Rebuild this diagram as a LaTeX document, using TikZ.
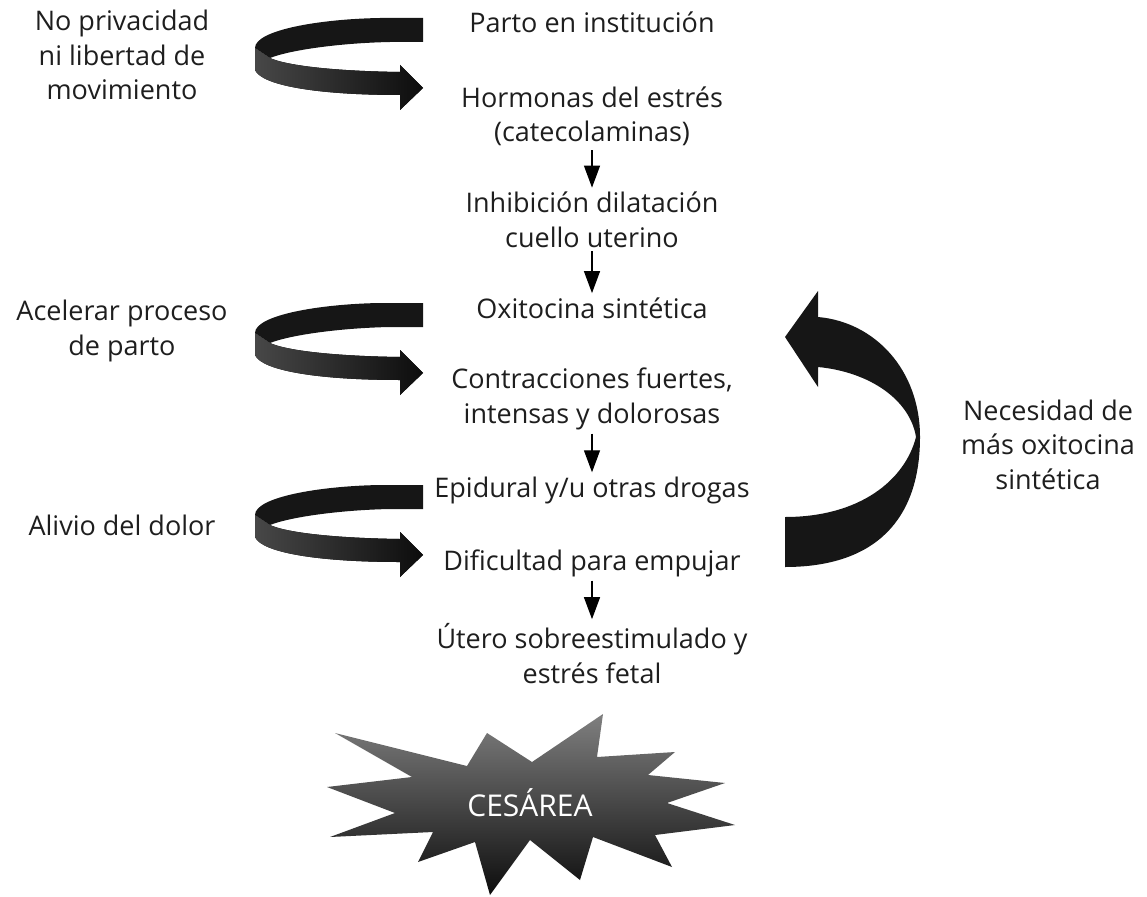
\documentclass[tikz,border=0pt]{standalone}
\usepackage{fontspec}
\setmainfont{Open Sans}
\usepackage{xcolor}
\usetikzlibrary{arrows.meta}

\definecolor{tinta}{HTML}{1E1E1E}
\definecolor{cinta}{HTML}{161616}

\tikzset{
  paso/.style={align=center, text=tinta, inner sep=4pt, anchor=base,
    font=\fontsize{27}{34.5}\selectfont},
  flecha/.style={-{Triangle[length=22pt,width=16pt]}, line width=1.3pt, black}
}

% flecha que da la vuelta, #1 = borde de arriba
\newcommand{\giro}[1]{%
  \begin{scope}[shift={(0,#1)}]
    \fill[cinta] (423,0) -- (380,0) .. controls (320,1) and (255,12) .. (255,30)
      -- (270,40) .. controls (290,32) and (340,25) .. (390,24) -- (423,24) -- cycle;
    \fill[left color=black!72, right color=black!95] (255,30) -- (255,52)
      .. controls (262,68) and (320,77) .. (400,77) -- (400,92) -- (423,70)
      -- (400,47) -- (400,54) .. controls (330,53) and (285,47) .. (270,40) -- cycle;
  \end{scope}}

\begin{document}
\begin{tikzpicture}[x=1pt,y=-1pt]
    \useasboundingbox (0,0) rectangle (1147,896);
    % cadena central (base = ultima linea)
    \node[paso] (parto) at (592,33) {Parto en institución};
    \node[paso] (hormonas) at (592,142) {Hormonas del estrés\\(catecolaminas)};
    \node[paso] (inhibicion) at (592,247) {Inhibición dilatación\\cuello uterino};
    \node[paso] (oxitocina) at (592,318) {Oxitocina sintética};
    \node[paso] (contracciones) at (592,423) {Contracciones fuertes,\\intensas y dolorosas};
    \node[paso] (epidural) at (592,497) {Epidural y/u otras drogas};
    \node[paso] (dificultad) at (592,570) {Dificultad para empujar};
    \node[paso] (utero) at (592,683) {Útero sobreestimulado y\\estrés fetal};
    \draw[flecha] (hormonas.south) -- (inhibicion.north);
    \draw[flecha] (inhibicion.south) -- (oxitocina.north);
    \draw[flecha] (contracciones.south) -- (epidural.north);
    \draw[flecha] (dificultad.south) -- (utero.north);
    % causas
    \node[paso] (privacidad) at (122,100) {No privacidad\\ni libertad de\\movimiento};
    \node[paso] (acelerar) at (122,355) {Acelerar proceso\\de parto};
    \node[paso] (alivio) at (122,535) {Alivio del dolor};
    \giro{18}
    \giro{303}
    \giro{485}
    % vuelta a la oxitocina
    \fill[cinta] (785,567) .. controls (875,567) and (920,520) .. (920,437)
      .. controls (920,370) and (875,322) .. (818,317) -- (818,291) -- (785,337)
      -- (818,387) -- (818,367) .. controls (870,372) and (910,400) .. (916,437)
      .. controls (905,480) and (860,517) .. (785,517) -- cycle;
    \node[paso] (necesidad) at (1048,489) {Necesidad de\\más oxitocina\\sintética};
    % final
    \shade[top color=black!50, bottom color=black!95] (335,733) -- (467,766)
      -- (487,733) -- (532,762) -- (603,714) -- (597,757) -- (675,752)
      -- (648,775) -- (725,783) -- (667,803) -- (735,825) -- (655,835)
      -- (672,867) -- (593,837) -- (580,880) -- (530,840) -- (490,895)
      -- (475,842) -- (418,862) -- (433,832) -- (330,837) -- (395,813)
      -- (327,787) -- (412,777) -- cycle;
    \node[text=white, font=\fontsize{30}{36}\selectfont] (cesarea) at (530,803) {CESÁREA};
\end{tikzpicture}
\end{document}
